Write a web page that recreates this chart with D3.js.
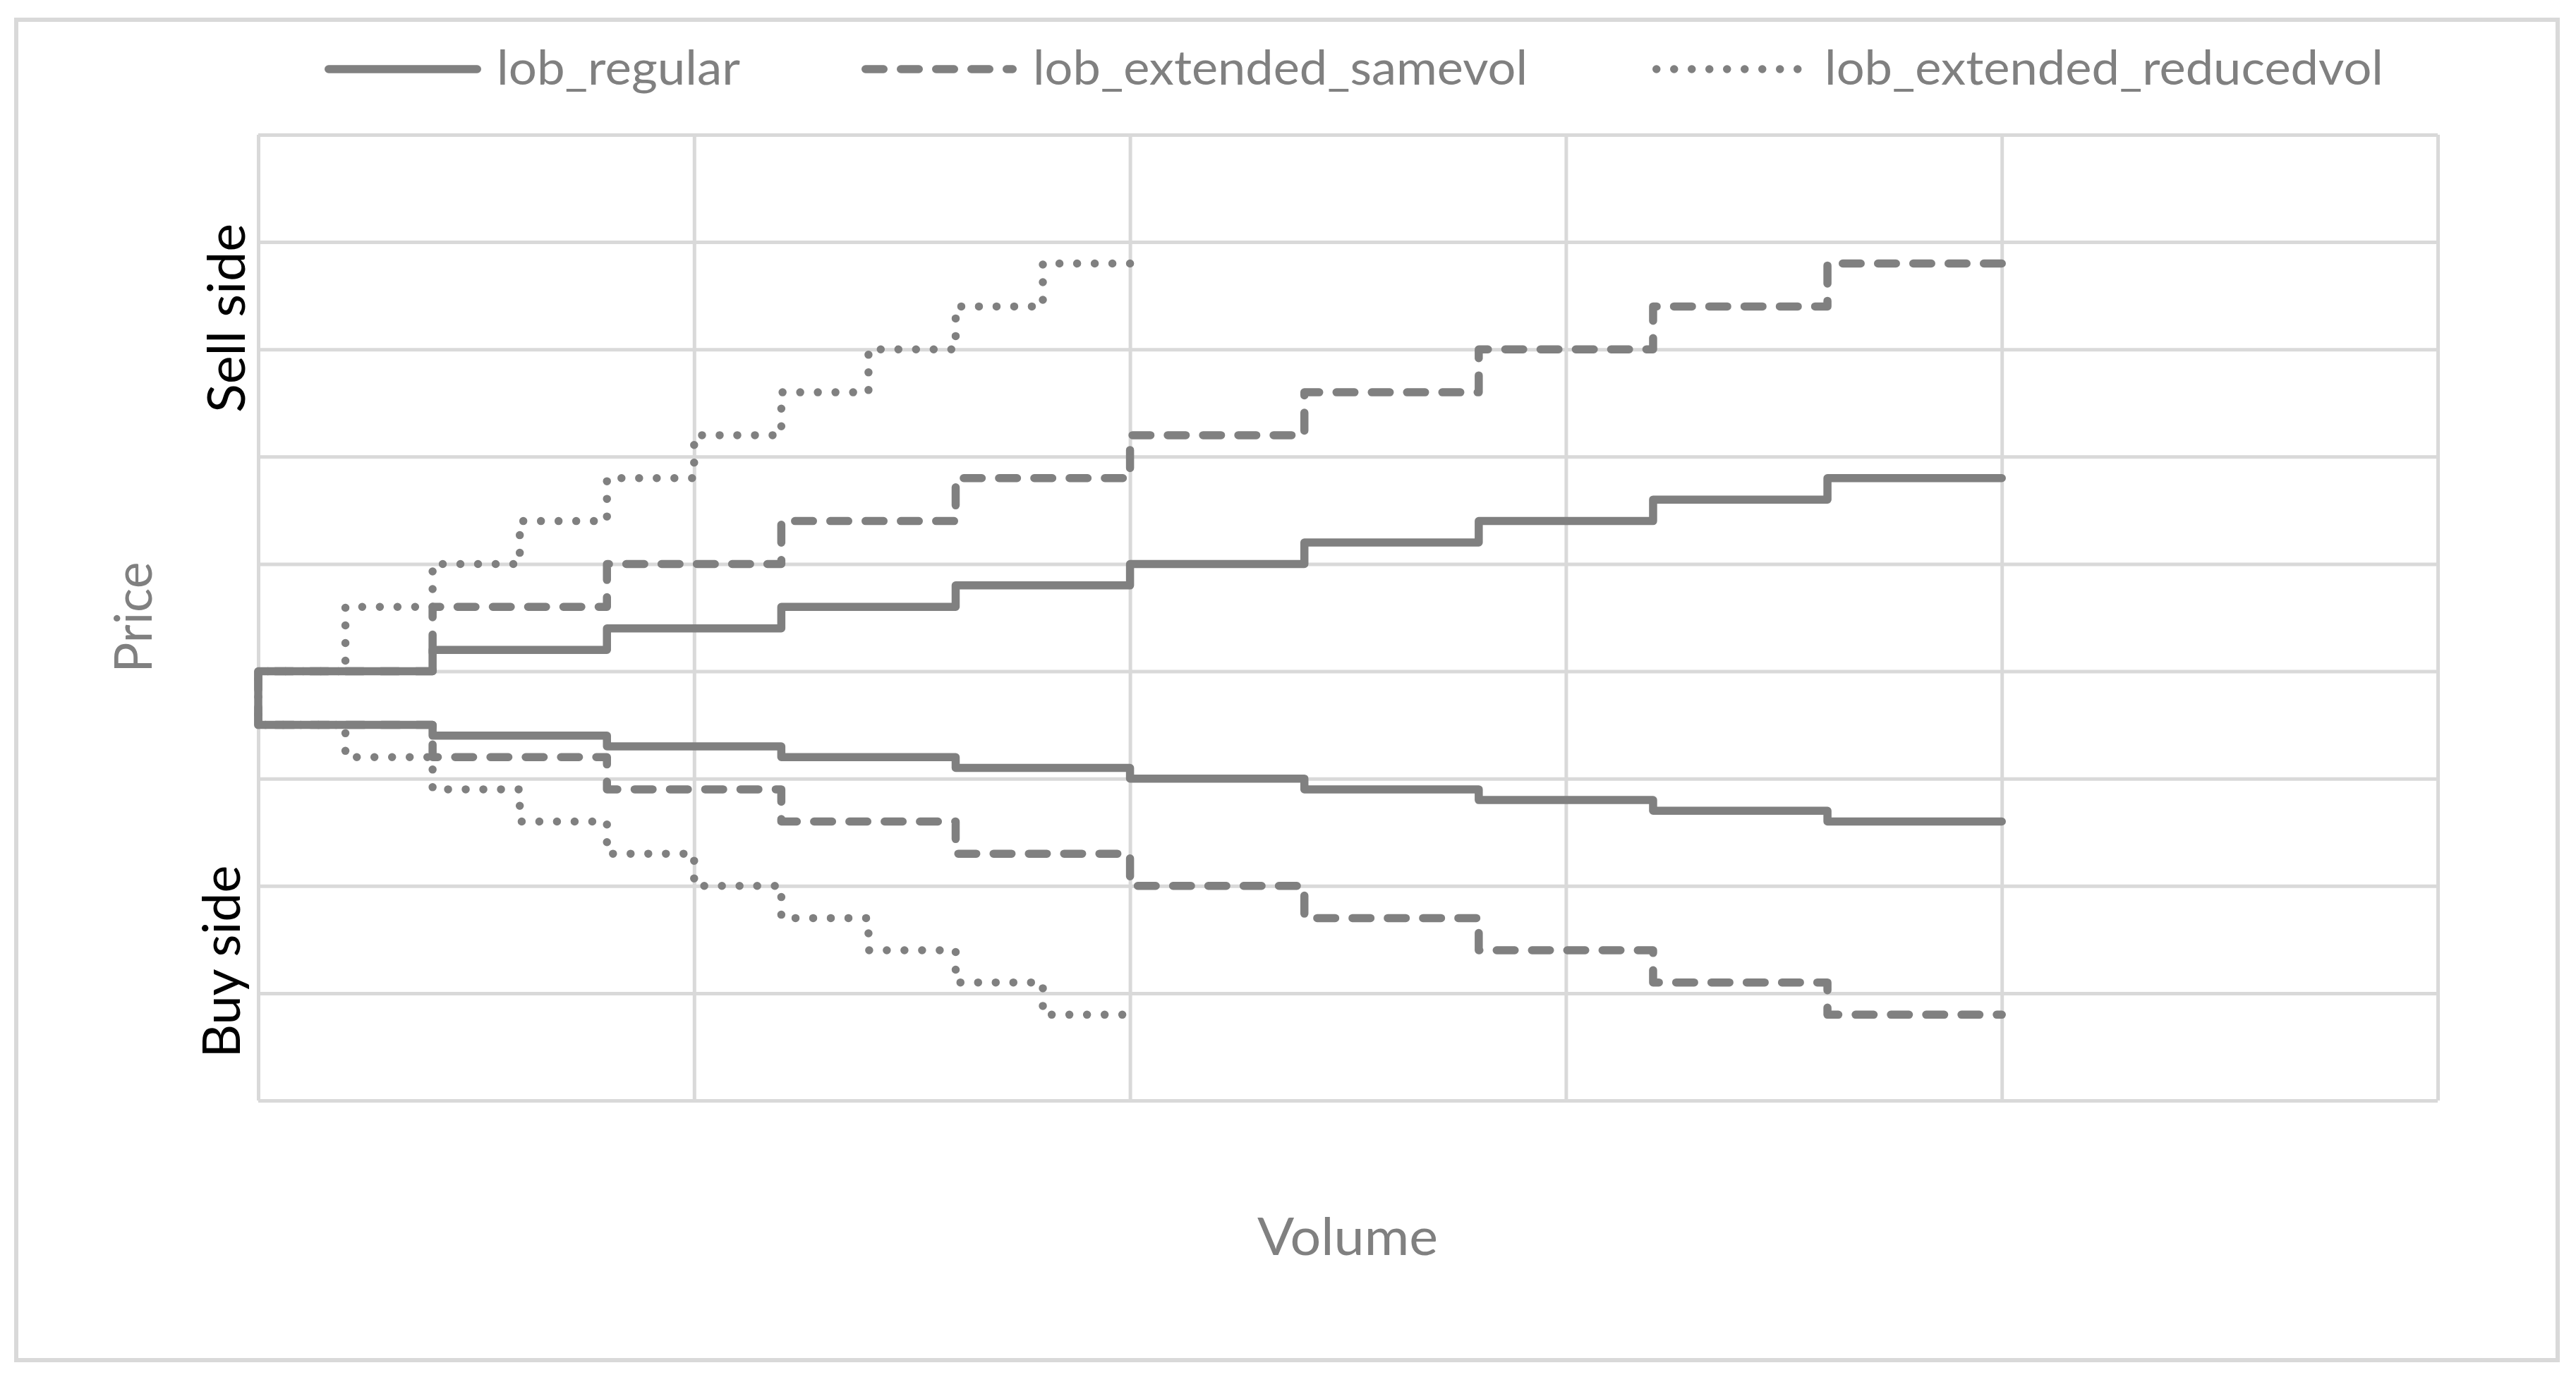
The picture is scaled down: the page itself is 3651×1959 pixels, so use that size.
<!DOCTYPE html>
<html>
<head>
<meta charset="utf-8">
<script src="https://cdn.jsdelivr.net/npm/d3@7"></script>
<style>
  html, body { margin: 0; padding: 0; background: #ffffff; }
  svg { display: block; }
</style>
</head>
<body>
<div id="chart"></div>
<script>
// Axis gridlines (no tick labels in the original chart)
const xTicks = [0, 5, 10, 15, 20, 25];
const yTicks = [0, 10, 20, 30, 40, 50, 60, 70, 80, 90];

// Price levels per step; sell side (ask) goes up, buy side (bid) goes down
const regularAsk = [40, 42, 44, 46, 48, 50, 52, 54, 56, 58];
const regularBid = [35, 34, 33, 32, 31, 30, 29, 28, 27, 26];
const regularVolume = 2;

const samevolAsk = [40, 46, 50, 54, 58, 62, 66, 70, 74, 78];
const samevolBid = [35, 32, 29, 26, 23, 20, 17, 14, 11, 8];
const samevolVolume = 2;

const reducedvolAsk = [40, 46, 50, 54, 58, 62, 66, 70, 74, 78];
const reducedvolBid = [35, 32, 29, 26, 23, 20, 17, 14, 11, 8];
const reducedvolVolume = 1;

const seriesNames = ["lob_regular", "lob_extended_samevol", "lob_extended_reducedvol"];

const width = 3651;
const height = 1959;
const plot = { left: 366, right: 3455, top: 191, bottom: 1560 };
const lineColor = "#808080";
const gridColor = "#d9d9d9";
const lineWidth = 11.5;
const dashStyles = ["none", "25.5 24.5", "0 25"];

const series = [
  { name: seriesNames[0], ask: regularAsk, bid: regularBid, volume: regularVolume, dash: dashStyles[0] },
  { name: seriesNames[1], ask: samevolAsk, bid: samevolBid, volume: samevolVolume, dash: dashStyles[1] },
  { name: seriesNames[2], ask: reducedvolAsk, bid: reducedvolBid, volume: reducedvolVolume, dash: dashStyles[2] },
];

const xScale = d3.scaleLinear().domain([0, 25]).range([plot.left, plot.right]);
const yScale = d3.scaleLinear().domain([0, 90]).range([plot.bottom, plot.top]);

const svg = d3
  .select("#chart")
  .append("svg")
  .attr("width", width)
  .attr("height", height)
  .attr("viewBox", `0 0 ${width} ${height}`);

svg.append("rect").attr("width", width).attr("height", height).attr("fill", "#ffffff");

// chart area border
svg
  .append("rect")
  .attr("x", 23)
  .attr("y", 28)
  .attr("width", 3625 - 23)
  .attr("height", 1928 - 28)
  .attr("fill", "none")
  .attr("stroke", gridColor)
  .attr("stroke-width", 6);

// gridlines through the library's axes
svg
  .append("g")
  .attr("class", "grid-x")
  .attr("transform", `translate(0, ${plot.bottom})`)
  .call(d3.axisBottom(xScale).tickValues(xTicks).tickSize(-(plot.bottom - plot.top)).tickFormat(""))
  .call((g) => g.select(".domain").remove())
  .call((g) => g.selectAll("line").attr("stroke", gridColor).attr("stroke-width", 5));

svg
  .append("g")
  .attr("class", "grid-y")
  .attr("transform", `translate(${plot.left}, 0)`)
  .call(d3.axisLeft(yScale).tickValues(yTicks).tickSize(-(plot.right - plot.left)).tickFormat(""))
  .call((g) => g.select(".domain").remove())
  .call((g) => g.selectAll("line").attr("stroke", gridColor).attr("stroke-width", 5));

function stepPoints(levels, volume) {
  const points = [];
  levels.forEach((level, i) => {
    points.push([i * volume, level]);
    points.push([(i + 1) * volume, level]);
  });
  return points;
}

const line = d3
  .line()
  .x((d) => xScale(d[0]))
  .y((d) => yScale(d[1]));

series.forEach((s) => {
  // walk the sell side back to zero volume, then out along the buy side
  const points = stepPoints(s.ask, s.volume).reverse().concat(stepPoints(s.bid, s.volume));
  svg
    .append("path")
    .datum(points)
    .attr("d", line)
    .attr("fill", "none")
    .attr("stroke", lineColor)
    .attr("stroke-width", lineWidth)
    .attr("stroke-linecap", "round")
    .attr("stroke-linejoin", "round")
    .attr("stroke-dasharray", s.dash);
});

// legend
const legendItems = [
  { lineX: [460, 682], textX: 704, textLen: 345 },
  { lineX: [1221, 1441], textX: 1464, textLen: 701 },
  { lineX: [2342, 2555], textX: 2586, textLen: 792 },
];

const legend = svg.append("g").attr("class", "legend");
legendItems.forEach((item, i) => {
  legend
    .append("line")
    .attr("x1", item.lineX[0] + lineWidth / 2)
    .attr("x2", item.lineX[1] - lineWidth / 2)
    .attr("y1", 98)
    .attr("y2", 98)
    .attr("stroke", lineColor)
    .attr("stroke-width", lineWidth)
    .attr("stroke-linecap", "round")
    .attr("stroke-dasharray", series[i].dash);
  legend
    .append("text")
    .attr("x", item.textX)
    .attr("y", 120)
    .attr("font-family", "Lato, 'Open Sans', sans-serif")
    .attr("font-size", 68)
    .attr("fill", lineColor)
    .attr("textLength", item.textLen)
    .attr("lengthAdjust", "spacingAndGlyphs")
    .text(series[i].name);
});

// axis titles
svg
  .append("text")
  .attr("x", 1910)
  .attr("y", 1779)
  .attr("text-anchor", "middle")
  .attr("font-family", "Lato, 'Open Sans', sans-serif")
  .attr("font-size", 74)
  .attr("fill", lineColor)
  .attr("textLength", 256)
  .attr("lengthAdjust", "spacingAndGlyphs")
  .text("Volume");

svg
  .append("text")
  .attr("transform", "translate(215, 875) rotate(-90)")
  .attr("text-anchor", "middle")
  .attr("font-family", "Lato, 'Open Sans', sans-serif")
  .attr("font-size", 74)
  .attr("fill", lineColor)
  .attr("textLength", 157)
  .attr("lengthAdjust", "spacingAndGlyphs")
  .text("Price");

// side annotations
svg
  .append("text")
  .attr("transform", "translate(347, 451) rotate(-90)")
  .attr("text-anchor", "middle")
  .attr("font-family", "Lato, 'Open Sans', sans-serif")
  .attr("font-size", 74)
  .attr("fill", "#000000")
  .attr("textLength", 268)
  .attr("lengthAdjust", "spacingAndGlyphs")
  .text("Sell side");

svg
  .append("text")
  .attr("transform", "translate(340, 1363) rotate(-90)")
  .attr("text-anchor", "middle")
  .attr("font-family", "Lato, 'Open Sans', sans-serif")
  .attr("font-size", 74)
  .attr("fill", "#000000")
  .attr("textLength", 273)
  .attr("lengthAdjust", "spacingAndGlyphs")
  .text("Buy side");
</script>
</body>
</html>
